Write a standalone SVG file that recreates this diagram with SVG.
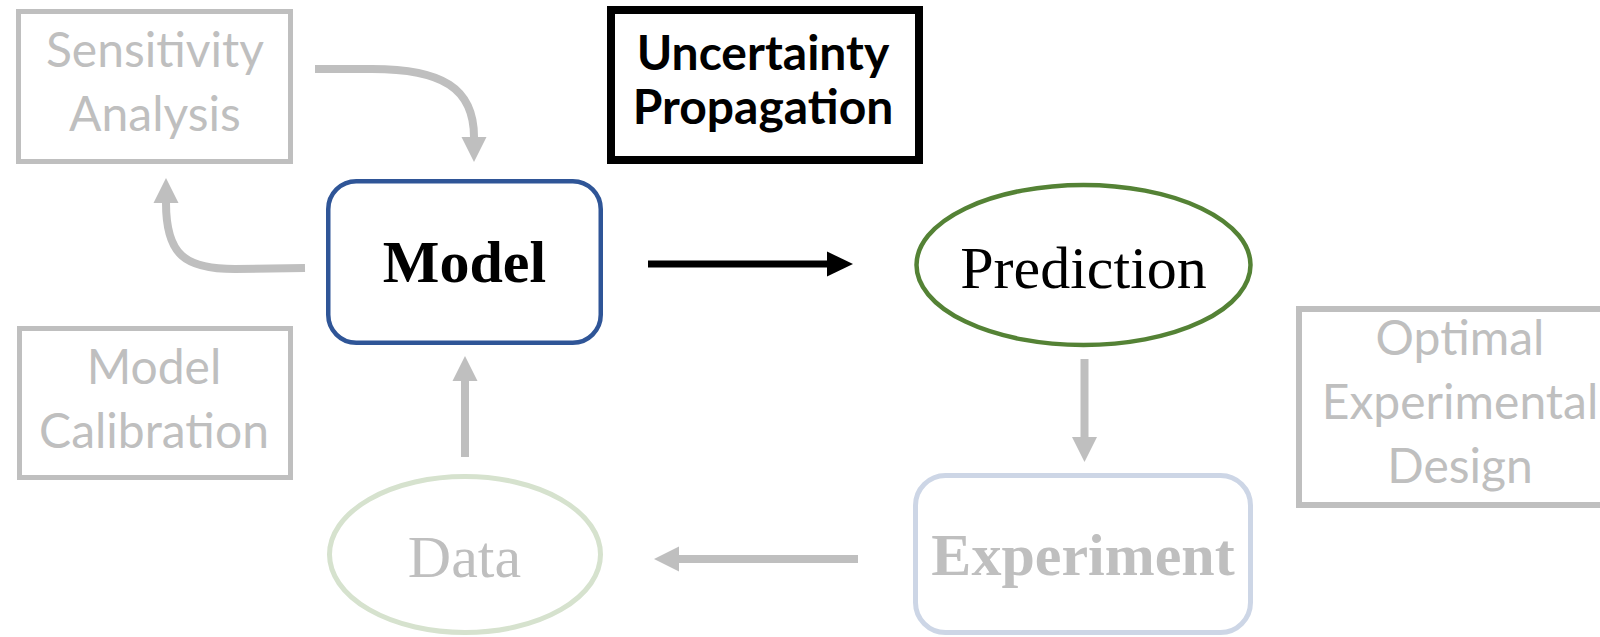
<svg xmlns="http://www.w3.org/2000/svg" width="1600" height="637" viewBox="0 0 1600 637">
  <style>
    .box-gray { fill: #FFFFFF; stroke: #BFBFBF; stroke-width: 5; }
    .label-sans { font-family: Lato, "Liberation Sans", sans-serif; font-size: 48px; fill: #BFBFBF; text-anchor: middle; }
    .label-sans-bold { font-family: Lato, "Liberation Sans", sans-serif; font-size: 48px; font-weight: bold; fill: #000000; text-anchor: middle; }
    .label-serif { font-family: "Liberation Serif", "Times New Roman", serif; font-size: 60px; text-anchor: middle; }
    .conn-gray { fill: none; stroke: #BFBFBF; stroke-width: 8; }
    .conn-black { fill: none; stroke: #000000; stroke-width: 7; }
  </style>
  <defs>
    <marker id="head-gray" markerUnits="userSpaceOnUse" viewBox="0 0 26 26" markerWidth="26" markerHeight="26" refX="0" refY="13" orient="auto">
      <path d="M0,0.5 L25,13 L0,25.5 Z" fill="#BFBFBF"/>
    </marker>
    <marker id="head-black" markerUnits="userSpaceOnUse" viewBox="0 0 26 26" markerWidth="26" markerHeight="26" refX="0" refY="13" orient="auto">
      <path d="M0,0.5 L26,13 L0,25.5 Z" fill="#000000"/>
    </marker>
  </defs>

  <rect width="1600" height="637" fill="#FFFFFF"/>

  <!-- connectors -->
  <g id="connectors">
    <path class="conn-gray" d="M315,69 L372,69 C442,69 474,88 474,137" marker-end="url(#head-gray)"/>
    <path class="conn-gray" d="M305,268 L235,269 C185,269 166,255 166,203" marker-end="url(#head-gray)"/>
    <path class="conn-gray" d="M465,457 L465,381" marker-end="url(#head-gray)"/>
    <path class="conn-gray" d="M1084.5,359 L1084.5,437" marker-end="url(#head-gray)"/>
    <path class="conn-gray" d="M858,559 L679,559" marker-end="url(#head-gray)"/>
    <path class="conn-black" d="M648,264 L827,264" marker-end="url(#head-black)"/>
  </g>

  <!-- side methods (grey) -->
  <g id="sensitivity-analysis">
    <rect class="box-gray" x="18.5" y="11.5" width="272" height="150"/>
    <text class="label-sans" x="155" y="67">Sensitivity</text>
    <text class="label-sans" x="155" y="131">Analysis</text>
  </g>

  <g id="model-calibration">
    <rect class="box-gray" x="19.5" y="328.5" width="271" height="149"/>
    <text class="label-sans" x="154" y="384">Model</text>
    <text class="label-sans" x="154" y="448">Calibration</text>
  </g>

  <g id="optimal-experimental-design">
    <rect class="box-gray" x="1299" y="309" width="400" height="196" style="stroke-width:6"/>
    <text class="label-sans" x="1460" y="355">Optimal</text>
    <text class="label-sans" x="1460" y="419">Experimental</text>
    <text class="label-sans" x="1460" y="483">Design</text>
  </g>

  <!-- highlighted method -->
  <g id="uncertainty-propagation">
    <rect x="611" y="10" width="308" height="150" fill="#FFFFFF" stroke="#000000" stroke-width="8"/>
    <text class="label-sans-bold" x="763" y="70">Uncertainty</text>
    <text class="label-sans-bold" x="763" y="124">Propagation</text>
  </g>

  <!-- main cycle -->
  <g id="model">
    <rect x="328.25" y="181.25" width="272.5" height="161.5" rx="28" ry="28" fill="#FFFFFF" stroke="#2F5597" stroke-width="4.5"/>
    <text class="label-serif" x="464.5" y="282" font-weight="bold" fill="#000000">Model</text>
  </g>

  <g id="prediction">
    <ellipse cx="1083.5" cy="265" rx="167" ry="80" fill="#FFFFFF" stroke="#548235" stroke-width="4.5"/>
    <text class="label-serif" x="1083.5" y="288" fill="#000000">Prediction</text>
  </g>

  <g id="experiment">
    <rect x="915.5" y="475.5" width="335" height="157" rx="30" ry="30" fill="#FFFFFF" stroke="#CDD6E6" stroke-width="5"/>
    <text class="label-serif" x="1083" y="575" font-weight="bold" fill="#BFBFBF">Experiment</text>
  </g>

  <g id="data">
    <ellipse cx="465" cy="554.5" rx="135.5" ry="78" fill="#FFFFFF" stroke="#D6E2CE" stroke-width="5"/>
    <text class="label-serif" x="464.5" y="577" fill="#BFBFBF">Data</text>
  </g>
</svg>
